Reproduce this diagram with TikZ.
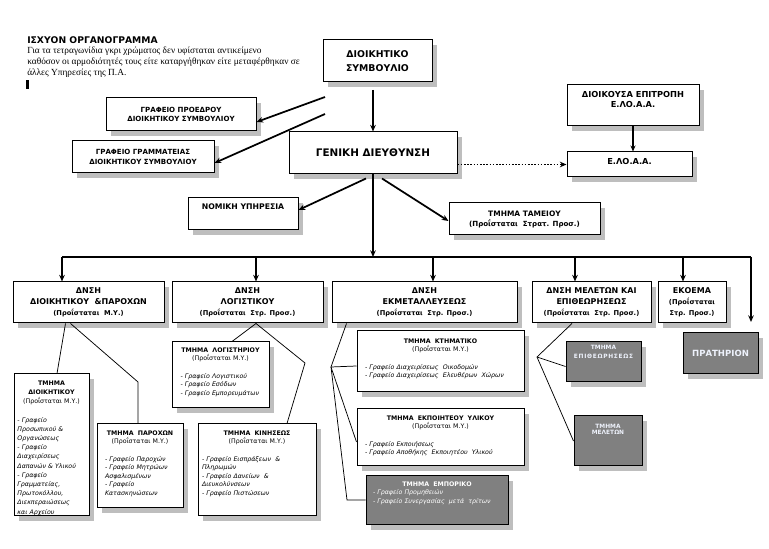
\documentclass[tikz,border=0pt]{standalone}
\usepackage{fontspec}
\setmainfont{DejaVu Sans}
\newfontfamily\notefont{Liberation Serif}
\usetikzlibrary{arrows.meta,shadows}
\setlength\parindent{0pt}
\newlength\px
\setlength\px{0.75pt}
\definecolor{shade}{RGB}{190,190,190}
\definecolor{boxfill}{RGB}{128,128,128}
\definecolor{paletext}{RGB}{238,242,252}

\tikzset{
  box/.style={draw, line width=0.75pt, fill=white, inner sep=1pt, align=center,
    general shadow={fill=shade, draw=none, shadow xshift=5\px, shadow yshift=-5\px}},
  greybox/.style={box, fill=boxfill, text=paletext},
  arr/.style={line width=1.3pt, -{Stealth[length=5pt,width=4.2pt]}},
  thinarr/.style={line width=0.9pt, -{Stealth[length=4.5pt,width=3.8pt]}},
  dotarr/.style={arr, dash pattern=on 1.3pt off 1.1pt},
  link/.style={line width=0.55pt},
  bus/.style={line width=1.3pt},
  fgd/.style={font=\bfseries\fontsize{7.8}{10}\selectfont},
  fds/.style={font=\bfseries\fontsize{7}{10}\selectfont},
  fel/.style={font=\bfseries\fontsize{6.2}{7.5}\selectfont},
  fgr/.style={font=\bfseries\fontsize{5.3}{7}\selectfont},
  fdn/.style={font=\bfseries\fontsize{6}{8.2}\selectfont},
  ttxt/.style={anchor=north, inner sep=0pt, align=left, font=\fontsize{4.7}{6.4}\selectfont},
}
\newcommand\prost[1]{{\fontsize{5}{8.2}\selectfont(Προΐσταται~~#1)}}
\newcommand\thead[2]{{\centering\bfseries #1\\\mdseries(Προΐσταται~#2)\par}\vspace{\baselineskip}}

\begin{document}
\begin{tikzpicture}[x=0.75pt,y=-0.75pt]
\useasboundingbox (0,0) rectangle (769,549);

% title and note
\node[anchor=base west, inner sep=0pt, font=\bfseries\fontsize{6.9}{9}\selectfont] (title) at (27,44) {ΙΣΧΥΟΝ ΟΡΓΑΝΟΓΡΑΜΜΑ};
\node[anchor=north west, inner sep=0pt, align=left, font=\notefont\fontsize{7}{8.3}\selectfont] (note) at (27,47)
  {Για τα  τετραγωνίδια γκρι χρώματος δεν υφίσταται αντικείμενο\\
   καθόσον οι αρμοδιότητές τους είτε καταργήθηκαν είτε μεταφέρθηκαν σε\\
   άλλες Υπηρεσίες της Π.Α.};
\fill (26,80) rectangle (28.5,89);

% top levels
\node[box, fds, minimum width=109\px, minimum height=42\px] (ds) at (377.5,61) {ΔΙΟΙΚΗΤΙΚΟ\\ΣΥΜΒΟΥΛΙΟ};
\node[box, fgr, minimum width=150\px, minimum height=33\px] (gp) at (181,114.5) {ΓΡΑΦΕΙΟ ΠΡΟΕΔΡΟΥ\\ΔΙΟΙΚΗΤΙΚΟΥ ΣΥΜΒΟΥΛΙΟΥ};
\node[box, fgr, minimum width=142\px, minimum height=32\px] (gg) at (143,157) {ΓΡΑΦΕΙΟ ΓΡΑΜΜΑΤΕΙΑΣ\\ΔΙΟΙΚΗΤΙΚΟΥ ΣΥΜΒΟΥΛΙΟΥ};
\node[box, fgd, minimum width=168\px, minimum height=42\px] (gd) at (373,153) {ΓΕΝΙΚΗ ΔΙΕΥΘΥΝΣΗ};
\node[box, minimum width=132\px, minimum height=41\px] (de) at (633,105.5) {};
\node[fel, anchor=north, align=center, inner sep=0pt] (de-t) at ([yshift=-7\px]de.north) {ΔΙΟΙΚΟΥΣΑ ΕΠΙΤΡΟΠΗ\\Ε.ΛΟ.Α.Α.};
\node[box, minimum width=125\px, minimum height=25\px] (el) at (629.5,164.5) {};
\node[fel, anchor=north, inner sep=0pt] (el-t) at ([yshift=-6.5\px]el.north) {Ε.ΛΟ.Α.Α.};
\node[box, minimum width=110\px, minimum height=32\px] (nom) at (243,214) {};
\node[anchor=north, inner sep=0pt, font=\bfseries\fontsize{5.8}{7}\selectfont] (nom-t) at ([yshift=-6\px]nom.north) {ΝΟΜΙΚΗ ΥΠΗΡΕΣΙΑ};
\node[box, minimum width=151\px, minimum height=32\px, font=\bfseries\fontsize{5.6}{7.5}\selectfont] (tam) at (524.5,219)
  {ΤΜΗΜΑ ΤΑΜΕΙΟΥ\\{\fontsize{5.3}{7.5}\selectfont(Προΐσταται~~Στρατ. Προσ.)}};

% directorates
\node[box, fdn, minimum width=151\px, minimum height=41\px] (d1) at (88.5,302.5) {ΔΝΣΗ\\ΔΙΟΙΚΗΤΙΚΟΥ~~\&ΠΑΡΟΧΩΝ\\\prost{Μ.Υ.}};
\node[box, fdn, minimum width=151\px, minimum height=41\px] (d2) at (247.5,302.5) {ΔΝΣΗ\\ΛΟΓΙΣΤΙΚΟΥ\\\prost{Στρ. Προσ.}};
\node[box, fdn, minimum width=185\px, minimum height=41\px] (d3) at (424.5,302.5) {ΔΝΣΗ\\ΕΚΜΕΤΑΛΛΕΥΣΕΩΣ\\\prost{Στρ. Προσ.}};
\node[box, fdn, minimum width=119\px, minimum height=41\px] (d4) at (591.5,302.5) {ΔΝΣΗ ΜΕΛΕΤΩΝ ΚΑΙ\\ΕΠΙΘΕΩΡΗΣΕΩΣ\\\prost{Στρ. Προσ.}};
\node[box, fdn, minimum width=68\px, minimum height=41\px] (d5) at (692,302.5)
  {ΕΚΟΕΜΑ\\{\fontsize{5}{8.2}\selectfont(Προΐσταται}\\{\fontsize{5}{8.2}\selectfont Στρ. Προσ.)}};

% sections
\node[box, minimum width=75\px, minimum height=142\px] (tdi) at (51.5,445) {};
\node[ttxt, text width=68\px, font=\fontsize{4.7}{6.9}\selectfont] (tdi-t) at ([yshift=-7\px]tdi.north)
  {\thead{ΤΜΗΜΑ\\ΔΙΟΙΚΗΤΙΚΟΥ}{Μ.Υ.}\itshape
   -~Γραφείο\\Προσωπικού~\&\\Οργανώσεως\\-~Γραφείο\\Διαχειρίσεως\\Δαπανών~\&~Υλικού\\-~Γραφείο\\Γραμματείας,\\Πρωτοκόλλου,\\Διεκπεραιώσεως\\και~Αρχείου};
\node[box, minimum width=86\px, minimum height=84\px] (tpa) at (140,466) {};
\node[ttxt, text width=70\px] (tpa-t) at ([yshift=-7\px]tpa.north)
  {\thead{ΤΜΗΜΑ~~ΠΑΡΟΧΩΝ}{Μ.Υ.}\itshape
   -~Γραφείο~Παροχών\\-~Γραφείο~Μητρώων\\Ασφαλισμένων\\-~Γραφείο\\Κατασκηνώσεων};
\node[box, minimum width=97\px, minimum height=66\px] (tlo) at (220.5,375) {};
\node[ttxt, text width=80\px] (tlo-t) at ([yshift=-6\px]tlo.north)
  {\thead{ΤΜΗΜΑ~~ΛΟΓΙΣΤΗΡΙΟΥ}{Μ.Υ.}\itshape
   -~Γραφείο~Λογιστικού\\-~Γραφείο~Εσόδων\\-~Γραφείο~Εμπορευμάτων};
\node[box, minimum width=118\px, minimum height=92\px] (tki) at (257,470) {};
\node[ttxt, text width=110\px] (tki-t) at ([yshift=-7\px]tki.north)
  {\thead{ΤΜΗΜΑ~~ΚΙΝΗΣΕΩΣ}{Μ.Υ.}\itshape
   -~Γραφείο~Εισπράξεων~~\&\\Πληρωμών\\-~Γραφείο~Δανείων~~\&\\Διευκολύνσεων\\-~Γραφείο~Πιστώσεων};
\node[box, minimum width=167\px, minimum height=61\px] (tkt) at (440.5,361.5) {};
\node[ttxt, text width=151\px] (tkt-t) at ([yshift=-8\px]tkt.north)
  {\thead{ΤΜΗΜΑ~~ΚΤΗΜΑΤΙΚΟ}{Μ.Υ.}\itshape
   -~Γραφείο~Διαχειρίσεως~~Οικοδομών\\-~Γραφείο~Διαχειρίσεως~~Ελευθέρων~~Χώρων};
\node[box, minimum width=167\px, minimum height=57\px] (tek) at (440.5,437.5) {};
\node[ttxt, text width=151\px] (tek-t) at ([yshift=-7\px]tek.north)
  {\thead{ΤΜΗΜΑ~~ΕΚΠΟΙΗΤΕΟΥ~~ΥΛΙΚΟΥ}{Μ.Υ.}\itshape
   -~Γραφείο~Εκποιήσεως\\-~Γραφείο~Αποθήκης~~Εκποιητέου~~Υλικού};
\node[greybox, minimum width=142\px, minimum height=49\px] (tem) at (437,500.5) {};
\node[ttxt, text width=128\px, text=white] (tem-t) at ([yshift=-6\px]tem.north)
  {{\centering\bfseries ΤΜΗΜΑ~~ΕΜΠΟΡΙΚΟ\par}\itshape
   -~Γραφείο~Προμηθειών\\-~Γραφείο~Συνεργασίας~~μετά~~τρίτων};
\node[greybox, minimum width=75\px, minimum height=40\px] (tep) at (603.5,362) {};
\node[anchor=north, inner sep=0pt, align=center, text=paletext, font=\bfseries\fontsize{4.4}{7}\selectfont] (tep-t) at ([yshift=-3\px]tep.north)
  {ΤΜΗΜΑ\\\addfontfeatures{LetterSpace=12}ΕΠΙΘΕΩΡΗΣΕΩΣ};
\node[greybox, minimum width=68\px, minimum height=50\px] (tme) at (608,441) {};
\node[anchor=north, inner sep=0pt, align=center, text=paletext, font=\bfseries\fontsize{4.4}{5.2}\selectfont] (tme-t) at ([yshift=-8\px]tme.north)
  {ΤΜΗΜΑ\\ΜΕΛΕΤΩΝ};
\node[greybox, minimum width=75\px, minimum height=41\px, font=\bfseries\fontsize{6.4}{8}\selectfont] (pr) at (720.5,353.5) {ΠΡΑΤΗΡΙΟΝ};

% arrows of the upper part
\coordinate (s0) at (373,90);
\coordinate (s1) at (325,97);
\coordinate (s2) at (325,114);
\draw[arr] (s0) -- (s0 |- gd.north);
\draw[arr] (s1) -- ([yshift=-7.5\px]gp.east);
\draw[arr] (s2) -- ([yshift=-6\px]gg.east);
\draw[arr] ([shift={(-7\px,-4\px)}]gd.south) -- ([yshift=4\px]nom.east);
\draw[arr] ([shift={(9\px,-4\px)}]gd.south) -- ([yshift=-2\px]tam.west);
\draw[dotarr] (gd.east |- el.west) -- (el.west);
\draw[thinarr] (de.south) -- (de.south |- el.north);

% bus to the directorates
\coordinate (b1) at (62,257);
\coordinate (b2) at (256,257);
\coordinate (b3) at (433,257);
\coordinate (b4) at (575,257);
\coordinate (b5) at (683,257);
\coordinate (b6) at (751,257);
\coordinate (e6) at (751,322);
\draw[bus] (b1) -- (b6);
\draw[arr] (gd.south) -- (gd.south |- b1);
\foreach \i/\n in {1/d1,2/d2,3/d3,4/d4,5/d5}
  \draw[arr] (b\i) -- (b\i |- \n.north);
\draw[arr] (b6) -- (e6);

% links to the sections
\coordinate (e1) at (138,382);
\coordinate (e2) at (305,363);
\coordinate (e3) at (331,367);
\coordinate (e4) at (347,500);
\coordinate (e5) at (537,357);
\draw[link] ([xshift=53\px]d1.south west) -- ([xshift=5.5\px]tdi.north);
\draw[link] ([xshift=58\px]d1.south west) -- (e1) -- (e1 |- tpa.north);
\draw[link] ([xshift=8.5\px]d2.south) -- ([xshift=11.5\px]tlo.north);
\draw[link] ([xshift=8.5\px]d2.south) -- (e2) -- ([xshift=30\px]tki.north);
\draw[link] ([xshift=15\px]d3.south west) -- (e3);
\draw[link] (e3) -- ([yshift=-4.5\px]tkt.west);
\draw[link] (e3) -- ([yshift=-4.5\px]tek.west);
\draw[link] (e3) -- (e4) -- (e4 -| tem.west);
\draw[link] ([xshift=-19.5\px]d4.south) -- (e5);
\draw[link] (e5) -- ([yshift=-4.5\px]tep.west);
\draw[link] (e5) -- (tme.west);
\end{tikzpicture}
\end{document}
